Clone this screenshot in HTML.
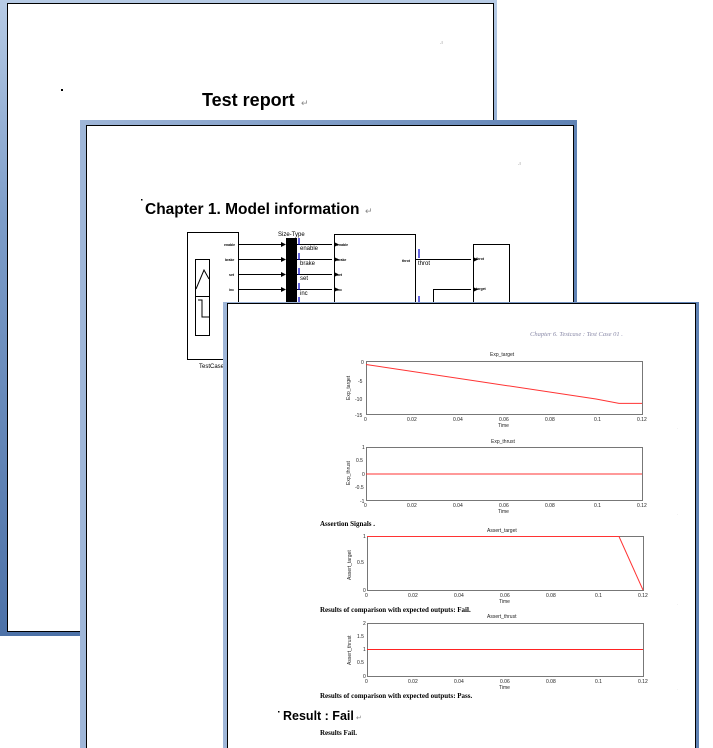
<!DOCTYPE html>
<html><head><meta charset="utf-8"><style>
html,body{margin:0;padding:0;background:#fff;width:713px;height:748px;overflow:hidden}
svg{display:block}
.s{font-family:"Liberation Serif",serif}
.a{font-family:"Liberation Sans",sans-serif}
</style></head><body>
<svg width="713" height="748" viewBox="0 0 713 748" xmlns="http://www.w3.org/2000/svg">
<defs>
<linearGradient id="bg" x1="0" y1="0" x2="0" y2="1">
<stop offset="0" stop-color="#b7cbe5"/><stop offset="0.35" stop-color="#7c9cc8"/><stop offset="1" stop-color="#4d72a8"/>
</linearGradient>
<linearGradient id="bg2" x1="0" y1="0" x2="1" y2="0">
<stop offset="0" stop-color="#9fb6d8"/><stop offset="1" stop-color="#5f82b4"/>
</linearGradient>
</defs>
<!-- Page 1 -->
<rect x="0" y="0" width="497" height="636" fill="url(#bg)"/>
<rect x="7.5" y="3.5" width="486" height="628" fill="#fff" stroke="#000" stroke-width="1"/>
<rect x="61" y="89" width="2" height="2" fill="#000"/>
<text x="440" y="44" font-size="5" fill="#888" class="a">.ı</text>
<text x="202" y="106" font-size="18" font-weight="bold" class="a">Test report</text>
<text x="301" y="106" font-size="9" fill="#888" class="a">↵</text>

<!-- Page 2 -->
<rect x="80" y="120" width="497" height="628" fill="url(#bg2)"/>
<rect x="86.5" y="125.5" width="487" height="640" fill="#fff" stroke="#000" stroke-width="1"/>
<text x="518" y="165" font-size="5" fill="#888" class="a">.ı</text>
<rect x="141" y="199" width="1.5" height="1.5" fill="#000"/>
<text x="145" y="214" font-size="15.5" font-weight="bold" class="a">Chapter 1. Model information</text>
<text x="365" y="214" font-size="9" fill="#888" class="a">↵</text>
<!-- simulink -->
<g stroke="#000" fill="none" stroke-width="1">
<rect x="187.5" y="232.5" width="51" height="127"/>
<rect x="195.5" y="259.5" width="14" height="76"/>
<line x1="195.5" y1="296.5" x2="209.5" y2="296.5"/>
<polyline points="196,289 204,270 209,279"/>
<polyline points="198,300 202,300 202,317 209,317"/>
<line x1="238" y1="244.5" x2="284" y2="244.5"/>
<line x1="238" y1="259.5" x2="284" y2="259.5"/>
<line x1="238" y1="274.5" x2="284" y2="274.5"/>
<line x1="238" y1="289.5" x2="284" y2="289.5"/>
<line x1="297" y1="244.5" x2="332" y2="244.5"/>
<line x1="297" y1="259.5" x2="332" y2="259.5"/>
<line x1="297" y1="274.5" x2="332" y2="274.5"/>
<line x1="297" y1="289.5" x2="332" y2="289.5"/>
<rect x="334.5" y="234.5" width="81" height="80"/>
<rect x="473.5" y="244.5" width="36" height="70"/>
<line x1="415" y1="259.5" x2="471" y2="259.5"/>
<polyline points="433.5,310 433.5,289.5 471,289.5"/>
</g>
<g fill="#000">
<rect x="286" y="238" width="11" height="70"/>
<polygon points="281,242 286,244.5 281,247"/><polygon points="281,257 286,259.5 281,262"/><polygon points="281,272 286,274.5 281,277"/><polygon points="281,287 286,289.5 281,292"/>
<polygon points="334,242 339,244.5 334,247"/><polygon points="334,257 339,259.5 334,262"/><polygon points="334,272 339,274.5 334,277"/><polygon points="334,287 339,289.5 334,292"/>
<polygon points="473,257 478,259.5 473,262"/><polygon points="473,287 478,289.5 473,292"/>
</g>
<g font-size="3.5" font-weight="bold" class="a">
<text x="224" y="246">enable</text><text x="225" y="261">brake</text><text x="229" y="276">set</text><text x="229" y="291">inc</text>
<text x="337" y="246">enable</text><text x="337" y="261">brake</text><text x="337" y="276">set</text><text x="337" y="291">inc</text>
<text x="402" y="262">throt</text><text x="476" y="260">throt</text><text x="476" y="290">target</text>
</g>
<g font-size="6" class="a">
<text x="278" y="236">Size-Type</text>
<text x="300" y="250">enable</text><text x="300" y="265">brake</text><text x="300" y="280">set</text><text x="300" y="295">inc</text>
<text x="418" y="265">throt</text>
<text x="199" y="368">TestCase</text>
</g>
<g stroke="#00c" stroke-width="1.2">
<line x1="299" y1="238" x2="299" y2="245"/><line x1="299" y1="253" x2="299" y2="260"/><line x1="299" y1="268" x2="299" y2="275"/><line x1="299" y1="283" x2="299" y2="290"/><line x1="299" y1="297" x2="299" y2="304"/>
<line x1="419" y1="249" x2="419" y2="258"/><line x1="419" y1="296" x2="419" y2="302"/>
</g>

<!-- Page 3 -->
<rect x="223" y="302" width="476" height="446" fill="url(#bg2)"/>
<rect x="227.5" y="303.5" width="468" height="450" fill="#fff" stroke="#000" stroke-width="1"/>
<text x="530" y="336" font-size="6.5" font-style="italic" fill="#8a8aa8" class="s">Chapter 6. Testcase : Test Case 01 .</text>
<g font-size="3" fill="#666" class="a"><text x="677" y="429">.</text><text x="677" y="515">.</text><text x="677" y="605">.</text><text x="677" y="690">.</text></g>

<g font-size="5" class="a" fill="#222">
<!-- Plot 1 -->
<text x="490" y="356">Exp_target</text>
<rect x="366.5" y="361.5" width="276" height="53" fill="none" stroke="#555" stroke-width="0.8"/>
<polyline points="366,364.5 596,399 619,403.4 642,403.4" fill="none" stroke="#f33" stroke-width="1"/>
<text x="361" y="364">0</text><text x="358" y="383">-5</text><text x="355" y="401">-10</text><text x="355" y="417">-15</text>
<text x="350" y="400" transform="rotate(-90 350 400)">Exp_target</text>
<text x="364" y="421">0</text><text x="407" y="421">0.02</text><text x="453" y="421">0.04</text><text x="499" y="421">0.06</text><text x="545" y="421">0.08</text><text x="594" y="421">0.1</text><text x="637" y="421">0.12</text>
<text x="498" y="427">Time</text>
<!-- Plot 2 -->
<text x="491" y="443">Exp_thrust</text>
<rect x="366.5" y="447.5" width="276" height="53" fill="none" stroke="#555" stroke-width="0.8"/>
<line x1="366" y1="474" x2="642" y2="474" stroke="#f33" stroke-width="1"/>
<text x="362" y="449">1</text><text x="356" y="462">0.5</text><text x="362" y="476">0</text><text x="355" y="489">-0.5</text><text x="360" y="503">-1</text>
<text x="350" y="485" transform="rotate(-90 350 485)">Exp_thrust</text>
<text x="364" y="507">0</text><text x="407" y="507">0.02</text><text x="453" y="507">0.04</text><text x="499" y="507">0.06</text><text x="545" y="507">0.08</text><text x="594" y="507">0.1</text><text x="637" y="507">0.12</text>
<text x="498" y="513">Time</text>
<!-- Plot 3 -->
<text x="487" y="532">Assert_target</text>
<rect x="367.5" y="536.5" width="276" height="54" fill="none" stroke="#555" stroke-width="0.8"/>
<polyline points="367,536.5 619,536.5 643,590" fill="none" stroke="#f33" stroke-width="1"/>
<text x="363" y="538">1</text><text x="357" y="564">0.5</text><text x="363" y="592">0</text>
<text x="351" y="580" transform="rotate(-90 351 580)">Assert_target</text>
<text x="365" y="597">0</text><text x="408" y="597">0.02</text><text x="454" y="597">0.04</text><text x="500" y="597">0.06</text><text x="546" y="597">0.08</text><text x="595" y="597">0.1</text><text x="638" y="597">0.12</text>
<text x="499" y="603">Time</text>
<!-- Plot 4 -->
<text x="487" y="618">Assert_thrust</text>
<rect x="367.5" y="623.5" width="276" height="53" fill="none" stroke="#555" stroke-width="0.8"/>
<line x1="367" y1="649.5" x2="643" y2="649.5" stroke="#f22" stroke-width="1"/>
<text x="363" y="625">2</text><text x="357" y="638">1.5</text><text x="363" y="651">1</text><text x="357" y="664">0.5</text><text x="363" y="678">0</text>
<text x="351" y="665" transform="rotate(-90 351 665)">Assert_thrust</text>
<text x="365" y="683">0</text><text x="408" y="683">0.02</text><text x="454" y="683">0.04</text><text x="500" y="683">0.06</text><text x="546" y="683">0.08</text><text x="595" y="683">0.1</text><text x="638" y="683">0.12</text>
<text x="499" y="689">Time</text>
</g>
<g font-size="7" font-weight="bold" class="s">
<text x="320" y="526">Assertion Signals .</text>
<text x="320" y="612">Results of comparison with expected outputs: Fail.</text>
<text x="320" y="698">Results of comparison with expected outputs: Pass.</text>
<text x="320" y="735">Results Fail.</text>
</g>
<rect x="278" y="711" width="1.5" height="1.5" fill="#000"/>
<text x="283" y="720" font-size="12.5" font-weight="bold" class="a">Result : Fail</text>
<text x="356" y="720" font-size="7" fill="#888" class="a">↵</text>
</svg>
</body></html>
